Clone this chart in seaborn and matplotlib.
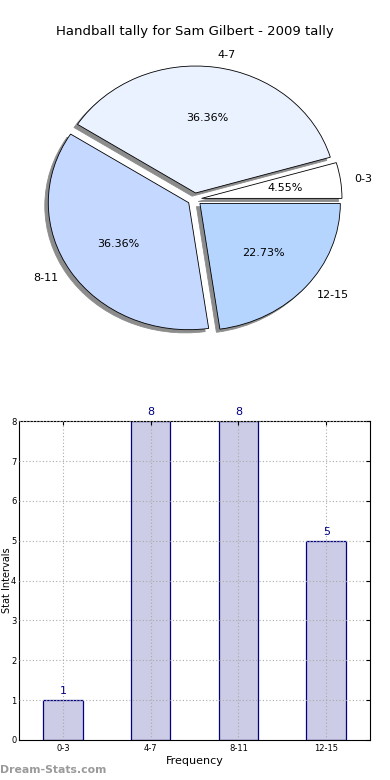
"""Handball tally for Sam Gilbert: pie of shares plus bar chart of counts."""

import matplotlib
matplotlib.use('Agg')
from matplotlib import pyplot as plt
import seaborn as sns
import pandas as pd

categories = ['0-3', '4-7', '8-11', '12-15']
counts = [1, 8, 8, 5]
pie_colors = ['#FFFFFF', '#EAF1FF', '#C5D8FF', '#B5D5FF']
explode = [0.05, 0.05, 0.05, 0.05]
y_ticks = [0, 1, 2, 3, 4, 5, 6, 7, 8]

sns.set_style('white')
plt.rcParams['font.family'] = ['DejaVu Sans']
plt.rcParams['text.color'] = 'black'
plt.rcParams['axes.labelcolor'] = 'black'
plt.rcParams['xtick.color'] = 'black'
plt.rcParams['ytick.color'] = 'black'

df = pd.DataFrame({'interval': categories, 'count': counts})

fig = plt.figure(figsize=(3.9, 7.8), dpi=100)

# pie on top
ax1 = fig.add_axes([0.049, 0.541, 0.9, 0.407])
ax1.pie(df['count'], labels=df['interval'], colors=pie_colors, explode=explode,
        autopct='%1.2f%%',
        shadow={'ox': -0.018, 'oy': -0.018, 'facecolor': '#8c8c8c',
                'edgecolor': '#8c8c8c', 'alpha': 1.0},
        startangle=0,
        wedgeprops={'edgecolor': 'black', 'linewidth': 0.6},
        textprops={'fontsize': 8, 'color': 'black'})
ax1.set_aspect('auto')
ax1.set_title('Handball tally for Sam Gilbert - 2009 tally', fontsize=9.5,
              pad=4, color='black')

# bar chart below
ax2 = fig.add_axes([0.049, 0.0513, 0.9, 0.4087])
sns.barplot(data=df, x='interval', y='count', color='#CCCCE6', saturation=1,
            edgecolor='navy', linewidth=0.9, width=0.45, ax=ax2)
for i, v in enumerate(df['count']):
    ax2.text(i, v + 0.1, str(v), ha='center', va='bottom', color='navy', fontsize=8)

ax2.set_xlim(-0.5, 3.5)
ax2.set_ylim(0, 8)
ax2.set_yticks(y_ticks)
ax2.set_axisbelow(False)
ax2.grid(True, linestyle=(0, (1, 2)), color='#aaaaaa', linewidth=0.8)
ax2.tick_params(direction='in', top=True, right=True, length=3, labelsize=6, pad=3)
ax2.tick_params(axis='y', pad=2)
for spine in ax2.spines.values():
    spine.set_color('black')
    spine.set_linewidth(0.8)
ax2.set_xlabel('Frequency', fontsize=8, labelpad=2)
ax2.set_ylabel('Stat Intervals', fontsize=7)
ax2.yaxis.set_label_coords(-0.021, 0.5)

fig.text(0.0, 0.006, 'Dream-Stats.com', color='#9a9a9a', fontsize=7.8,
         fontweight='bold', ha='left', va='bottom')

plt.savefig('out.png', dpi=100)
